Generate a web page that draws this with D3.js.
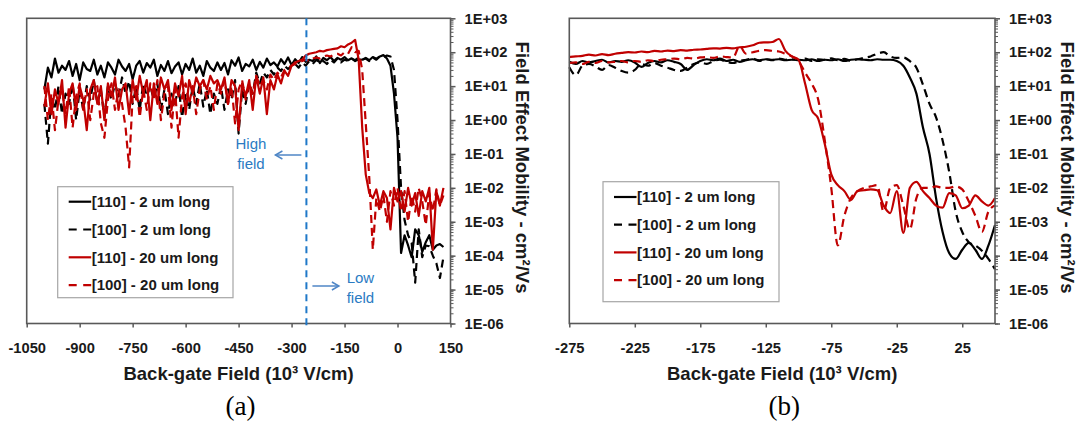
<!DOCTYPE html>
<html>
<head>
<meta charset="utf-8">
<script src="https://cdn.jsdelivr.net/npm/d3@7"></script>
<style>
  body { margin: 0; background: #fff; }
  svg text { font-family: "Liberation Sans", Arial, sans-serif; }
</style>
</head>
<body>
<svg id="chart" width="1077" height="424"></svg>
<script>
// ---------- data: panel (a), back-gate field in 10^3 V/cm ----------
var fieldA = [
  -1000, -990, -980, -970, -960, -950, -940, -930, -920, -910,
  -900, -890, -880, -870, -860, -850, -840, -830, -820, -810,
  -800, -790, -780, -770, -760, -750, -740, -730, -720, -710,
  -700, -690, -680, -670, -660, -650, -640, -630, -620, -610,
  -600, -590, -580, -570, -560, -550, -540, -530, -520, -510,
  -500, -490, -480, -470, -460, -450, -440, -430, -420, -410,
  -400, -390, -380, -370, -360, -350, -340, -330, -320, -310,
  -300, -290, -280, -270, -260, -250, -240, -230, -220, -210,
  -200, -190, -180, -170, -160, -150, -140, -130, -120, -110,
  -100, -90, -80, -70, -60, -50, -40, -30, -20, -10,
  0, 10, 20, 30, 40, 50, 60, 70, 80, 90,
  100, 110, 120, 130
];
// field effect mobility, cm2/Vs
var blk110A = [
  8, 35, 18, 65, 25, 40, 30, 55, 20, 45,
  15, 50, 32, 28, 60, 22, 40, 18, 50, 35,
  22, 60, 38, 28, 45, 16, 40, 55, 25, 48,
  35, 60, 20, 42, 28, 55, 24, 38, 50, 22,
  45, 30, 65, 25, 40, 20, 55, 35, 28, 50,
  30, 48, 22, 58, 40, 70, 28, 45, 38, 60,
  30, 52, 35, 65, 42, 50, 38, 62, 45, 70,
  42, 62, 48, 72, 52, 60, 55, 75, 48, 68,
  58, 72, 55, 68, 60, 72, 58, 66, 55, 62,
  60, 68, 58, 72, 64, 75, 82, 65, 40, 6,
  0.3, 1.2e-4, 4e-4, 2e-4, 9e-5, 6e-4, 4e-4, 1.3e-4, 2.5e-4, 4e-4,
  1.5e-4, 2e-4, 2.2e-4, 1.8e-4
];
var blk100A = [
  3, 0.2, 5, 2, 10, 1.5, 6, 3, 12, 1,
  8, 2, 10, 4, 15, 3, 8, 1.2, 10, 4,
  12, 5, 18, 6, 14, 3, 10, 2, 12, 5,
  10, 4, 12, 2, 8, 1.5, 6, 3, 10, 1.2,
  6, 2, 10, 3, 12, 2.5, 8, 1.5, 6, 3,
  10, 2, 8, 4, 15, 0.4, 8, 3, 12, 6,
  25, 12, 25, 18, 30, 22, 35, 28, 40, 32,
  40, 45, 35, 50, 40, 55, 45, 60, 48, 55,
  45, 60, 50, 65, 50, 60, 55, 65, 58, 70,
  60, 65, 55, 70, 60, 75, 70, 80, 75, 30,
  1, 0.01, 1.1e-3, 4e-4, 2.4e-4, 1.6e-5, 6e-4, 9e-5, 2e-4, 1.9e-4,
  1e-4, 6e-5, 2.2e-5, 9e-5
];
var red110A = [
  2.5, 12, 1.5, 8, 3, 15, 0.6, 6, 12, 2,
  10, 4, 0.5, 8, 15, 3, 10, 1, 12, 5,
  18, 2, 8, 12, 1.5, 15, 4, 20, 6, 15,
  1, 12, 3, 18, 8, 15, 2, 12, 5, 20,
  1.5, 15, 6, 18, 10, 15, 8, 20, 12, 15,
  8, 18, 3, 15, 10, 0.5, 12, 5, 15, 2,
  20, 6, 18, 1.5, 15, 8, 22, 12, 28, 20,
  40, 50, 55, 60, 80, 90, 95, 100, 110, 105,
  115, 120, 125, 130, 150, 140, 170, 190, 230, 60,
  0.6, 0.025, 7e-3, 5e-3, 9e-3, 3e-3, 8e-3, 5e-3, 6e-4, 1e-2,
  4e-3, 8e-3, 2e-3, 1e-2, 3e-3, 7e-3, 1.5e-3, 8e-3, 4e-3, 1e-2,
  1.5e-4, 8e-3, 3e-3, 1e-2
];
var red100A = [
  10, 1, 6, 0.5, 4, 8, 1.5, 10, 0.6, 5,
  12, 2, 8, 1, 6, 10, 0.8, 0.3, 4, 12,
  2, 8, 3, 0.6, 0.04, 5, 10, 1.2, 8, 2,
  12, 4, 15, 1, 6, 10, 0.6, 8, 0.3, 5,
  12, 3, 10, 1.5, 8, 15, 4, 10, 2, 12,
  6, 15, 3, 10, 0.8, 8, 15, 4, 12, 6,
  20, 10, 15, 8, 22, 15, 25, 18, 30, 35,
  40, 45, 50, 55, 60, 55, 65, 70, 65, 75,
  80, 75, 85, 90, 80, 100, 90, 140, 100, 110,
  30, 0.8, 0.02, 1.5e-4, 5e-3, 2e-3, 6e-3, 1e-3, 8e-3, 3e-3,
  1e-2, 2e-3, 8e-3, 1e-3, 6e-3, 2e-3, 1e-2, 4e-3, 8e-4, 7e-3,
  2e-3, 9e-3, 3e-3, 6e-3
];
var fieldBoundary = -258; // high / low field split (blue dashed line)

// ---------- data: panel (b) ----------
var fieldB = [
  -275, -270, -265, -260, -255, -250, -245, -240, -235, -230,
  -225, -220, -215, -210, -205, -200, -195, -190, -185, -180,
  -175, -170, -165, -160, -155, -150, -145, -140, -135, -130,
  -125, -120, -115, -110, -105, -100, -95, -90, -85, -80,
  -75, -70, -65, -60, -55, -50, -45, -40, -35, -30,
  -25, -20, -15, -10, -5, 0, 5, 10, 15, 20,
  25, 30, 35, 40, 45, 50
];
var blk110B = [
  52, 45, 55, 50, 55, 60, 50, 55, 52, 58,
  50, 37, 48, 55, 50, 58, 52, 45, 30, 42,
  55, 62, 58, 65, 55, 60, 52, 58, 62, 58,
  62, 60, 62, 58, 60, 60, 58, 62, 55, 60,
  58, 62, 55, 60, 62, 60, 58, 62, 60, 60,
  55, 40, 18, 6, 0.6, 0.1, 5e-3, 5e-4, 1.2e-4, 8e-5,
  1.5e-4, 2.4e-4, 1.5e-4, 8e-5, 2e-4, 8e-4
];
var blk100B = [
  36, 21, 40, 45, 38, 30, 42, 35, 28, 25,
  30, 45, 40, 48, 40, 35, 30, 28, 35, 45,
  50, 45, 55, 60, 52, 48, 55, 60, 65, 55,
  62, 58, 65, 60, 62, 58, 65, 55, 62, 60,
  66, 58, 64, 56, 62, 68, 75, 90, 100, 75,
  68, 70, 55, 35, 11, 3, 1.2, 0.25, 0.03, 2e-3,
  5e-4, 2.5e-4, 2e-4, 1.4e-4, 8e-5, 4e-5
];
var red110B = [
  72, 75, 78, 85, 80, 88, 82, 90, 95, 100,
  98, 105, 100, 110, 105, 112, 108, 115, 112, 118,
  120, 125, 130, 128, 135, 130, 140, 145, 160, 190,
  195, 200, 245, 110, 75, 60, 12, 2, 1.1, 0.2,
  0.025, 0.012, 8e-3, 4.4e-3, 8e-3, 8.5e-3, 9e-3, 8.5e-3, 3e-3, 1.8e-3,
  8e-3, 4.7e-4, 1e-2, 1.5e-2, 8e-3, 5e-3, 3e-3, 2.6e-3, 7e-3, 6e-3,
  2.5e-3, 3e-3, 6e-3, 4e-3, 3e-3, 5e-3
];
var red100B = [
  48, 50, 45, 52, 48, 55, 50, 52, 55, 50,
  55, 52, 58, 55, 60, 62, 65, 62, 68, 65,
  70, 72, 68, 75, 72, 70, 150, 90, 100, 110,
  115, 110, 105, 90, 75, 55, 25, 12, 4, 0.26,
  0.01, 2e-4, 1.5e-3, 5e-3, 8e-3, 1e-2, 1.1e-2, 1.2e-2, 2e-3, 1e-2,
  1.2e-2, 3e-3, 6e-4, 5e-3, 1e-2, 1e-2, 1.1e-2, 1e-2, 1e-2, 1.1e-2,
  9e-3, 4e-3, 1.5e-3, 5e-4, 2e-3, 3e-3
];

// ---------- axes / legend text ----------
var xTicksA = [-1050, -900, -750, -600, -450, -300, -150, 0, 150];
var xTicksB = [-275, -225, -175, -125, -75, -25, 25];
var yTicks = [1e3, 1e2, 1e1, 1e0, 1e-1, 1e-2, 1e-3, 1e-4, 1e-5, 1e-6];
var yTickLabels = ["1E+03", "1E+02", "1E+01", "1E+00", "1E-01", "1E-02", "1E-03", "1E-04", "1E-05", "1E-06"];
var legendLabels = ["[110] - 2 um long", "[100] - 2 um long", "[110] - 20 um long", "[100] - 20 um long"];

// series styles, in legend order
var styles = [
  { color: "#000000", dash: null },
  { color: "#000000", dash: "8,5" },
  { color: "#c00000", dash: null },
  { color: "#c00000", dash: "8,5" }
];

var svg = d3.select("#chart");
var axisColor = "#595959";
var labelColor = "#1a1a1a";

function drawPanel(p) {
  var x = d3.scaleLinear().domain(p.xDomain).range([p.left, p.right]);
  var y = d3.scaleLog().domain([1e-6, 1e3]).range([p.bottom, p.top]);
  var g = svg.append("g");

  // series
  var line = d3.line()
    .x(function(d, i) { return x(p.field[i]); })
    .y(function(d) { return y(d); })
    .curve(p.curve);
  p.series.forEach(function(s, k) {
    g.append("path")
      .datum(s)
      .attr("d", line)
      .attr("fill", "none")
      .attr("stroke", styles[k].color)
      .attr("stroke-width", 2.2)
      .attr("stroke-linejoin", "round")
      .attr("stroke-dasharray", styles[k].dash);
  });

  // frame
  g.append("rect")
    .attr("x", p.left).attr("y", p.top)
    .attr("width", p.right - p.left).attr("height", p.bottom - p.top)
    .attr("fill", "none").attr("stroke", axisColor).attr("stroke-width", 1.6);

  // bottom axis
  var xa = g.append("g")
    .attr("transform", "translate(0," + p.bottom + ")")
    .call(d3.axisBottom(x).tickValues(p.xTicks).tickSize(4).tickPadding(15).tickFormat(String));
  xa.select(".domain").remove();
  xa.selectAll("line").attr("stroke", axisColor).attr("stroke-width", 1.5);
  xa.selectAll("text")
    .attr("font-family", "Liberation Sans, Arial, sans-serif")
    .attr("font-size", 14.7).attr("font-weight", "bold").attr("fill", labelColor);

  // right log axis: minor then major
  var minor = g.append("g")
    .attr("transform", "translate(" + p.right + ",0)")
    .call(d3.axisRight(y).tickValues(y.ticks()).tickSize(3).tickFormat(""));
  minor.select(".domain").remove();
  minor.selectAll("line").attr("stroke", axisColor).attr("stroke-width", 1);

  var ya = g.append("g")
    .attr("transform", "translate(" + p.right + ",0)")
    .call(d3.axisRight(y).tickValues(yTicks).tickSize(5).tickPadding(9)
      .tickFormat(function(d, i) { return yTickLabels[i]; }));
  ya.select(".domain").remove();
  ya.selectAll("line").attr("stroke", axisColor).attr("stroke-width", 1.5);
  ya.selectAll("text")
    .attr("font-family", "Liberation Sans, Arial, sans-serif")
    .attr("font-size", 14.7).attr("font-weight", "bold").attr("fill", labelColor);

  // titles
  var cx = (p.left + p.right) / 2;
  g.append("text")
    .attr("x", cx).attr("y", 380)
    .attr("text-anchor", "middle")
    .attr("font-size", 18.5).attr("font-weight", "bold").attr("fill", labelColor)
    .text("Back-gate Field (10\u00b3 V/cm)");

  g.append("text")
    .attr("transform", "translate(" + p.yTitleX + ",167.5) rotate(90)")
    .attr("text-anchor", "middle").attr("dy", "0.35em")
    .attr("font-size", 18.5).attr("font-weight", "bold").attr("fill", labelColor)
    .text("Field Effect Mobility - cm\u00b2/Vs");

  g.append("text")
    .attr("x", cx + 2).attr("y", 415)
    .attr("text-anchor", "middle")
    .style("font-family", "Liberation Serif, Times New Roman, serif")
    .attr("font-size", 27).attr("fill", "#000")
    .text(p.name);

  // legend
  var L = p.legend;
  var lg = g.append("g");
  lg.append("rect")
    .attr("x", L.x).attr("y", L.y).attr("width", L.w).attr("height", L.h)
    .attr("fill", "#fff").attr("stroke", "#a6a6a6").attr("stroke-width", 1.2);
  legendLabels.forEach(function(t, k) {
    var yy = L.first + k * L.step;
    lg.append("line")
      .attr("x1", L.x + 11).attr("x2", L.x + 33.5)
      .attr("y1", yy).attr("y2", yy)
      .attr("stroke", styles[k].color).attr("stroke-width", 2.2)
      .attr("stroke-dasharray", styles[k].dash ? "8,6.5" : null);
    lg.append("text")
      .attr("x", L.x + 34).attr("y", yy).attr("dy", "0.35em")
      .attr("font-size", 15).attr("font-weight", "bold").attr("fill", labelColor)
      .text(t);
  });

  return { x: x, y: y, g: g };
}

// ---------- panel (a) ----------
var pa = drawPanel({
  name: "(a)",
  left: 26.7, right: 450.5, top: 18.3, bottom: 323.5,
  xDomain: [-1050, 150], xTicks: xTicksA,
  field: fieldA, series: [blk110A, blk100A, red110A, red100A],
  curve: d3.curveLinear, yTitleX: 522,
  legend: { x: 57.7, y: 186.7, w: 175.3, h: 111, first: 201.7, step: 27.8 }
});

// high / low field marker
var bx = pa.x(fieldBoundary);
var blue = "#2a7bc3";
pa.g.append("line")
  .attr("x1", bx).attr("x2", bx).attr("y1", 18.3).attr("y2", 330)
  .attr("stroke", "#1f78c8").attr("stroke-width", 2).attr("stroke-dasharray", "7,5");

var notes = [
  { text: ["High", "field"], cx: bx - 55.5, y0: 149, ax0: bx - 5, ax1: bx - 31, ay: 155 },
  { text: ["Low", "field"], cx: bx + 54, y0: 283, ax0: bx + 6, ax1: bx + 32.5, ay: 286 }
];
notes.forEach(function(n) {
  n.text.forEach(function(t, i) {
    pa.g.append("text")
      .attr("x", n.cx).attr("y", n.y0 + i * 19.5)
      .attr("text-anchor", "middle")
      .attr("font-size", 15).attr("fill", blue)
      .text(t);
  });
  var dir = n.ax1 < n.ax0 ? 1 : -1;
  pa.g.append("line")
    .attr("x1", n.ax0).attr("x2", n.ax1).attr("y1", n.ay).attr("y2", n.ay)
    .attr("stroke", "#4f86c6").attr("stroke-width", 1.5);
  pa.g.append("path")
    .attr("d", "M" + (n.ax1 + dir * 7) + "," + (n.ay - 4) + "L" + n.ax1 + "," + n.ay + "L" + (n.ax1 + dir * 7) + "," + (n.ay + 4))
    .attr("fill", "none").attr("stroke", "#4f86c6").attr("stroke-width", 1.5);
});

// ---------- panel (b) ----------
drawPanel({
  name: "(b)",
  left: 569.3, right: 995, top: 18.3, bottom: 323.5,
  xDomain: [-275, 50], xTicks: xTicksB,
  field: fieldB, series: [blk110B, blk100B, red110B, red100B],
  curve: d3.curveMonotoneX, yTitleX: 1067,
  legend: { x: 603, y: 181.7, w: 176, h: 120, first: 197, step: 27.7 }
});
</script>
</body>
</html>
